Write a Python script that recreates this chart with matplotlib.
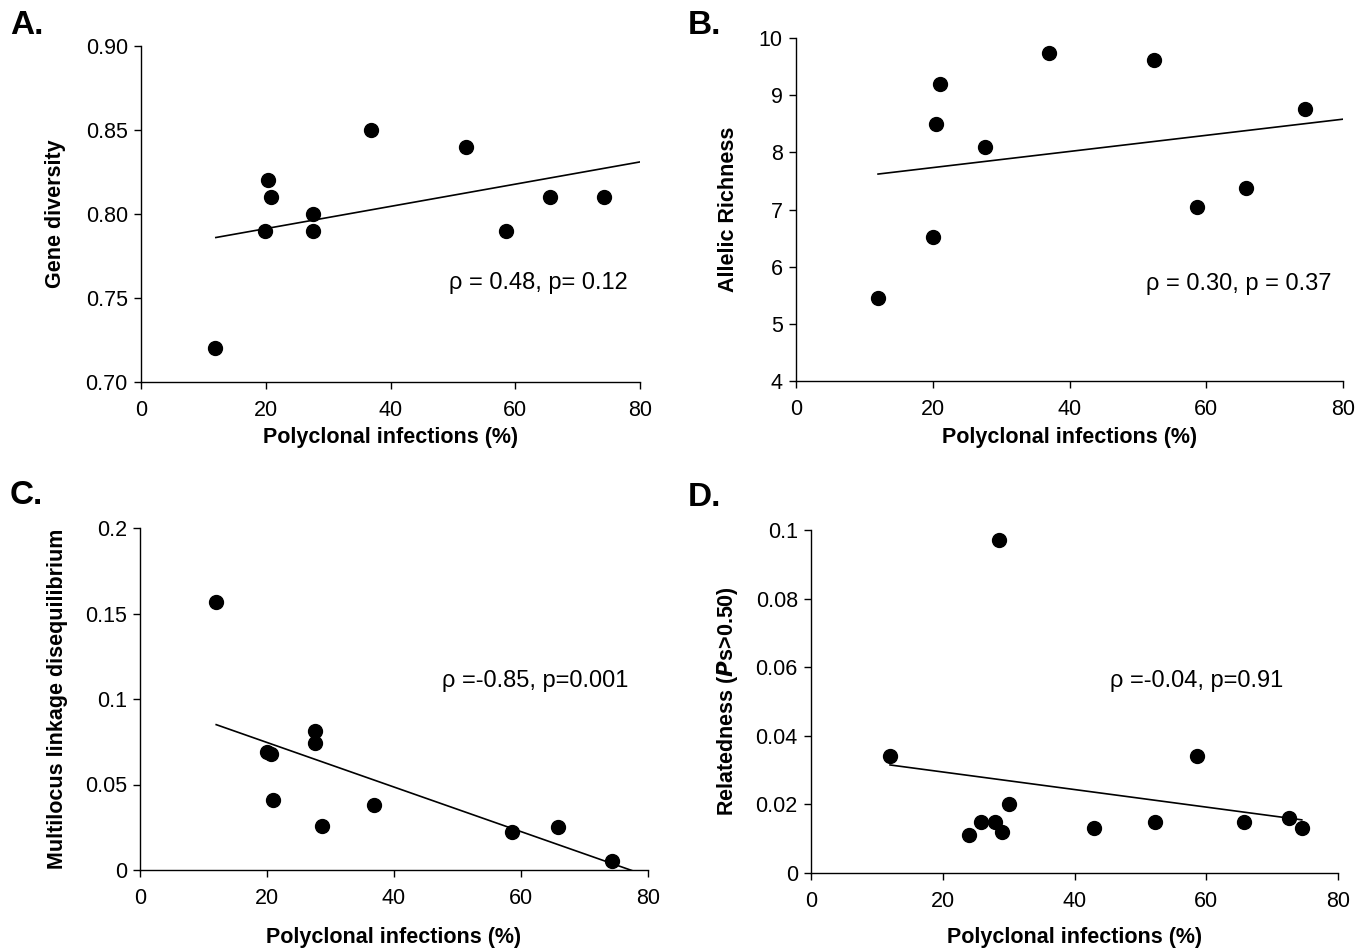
import matplotlib
matplotlib.use("Agg")
import matplotlib.pyplot as plt

# ---------------- data ----------------
xA = [11.9, 19.9, 20.4, 20.8, 27.6, 27.6, 36.9, 52.1, 58.5, 65.6, 74.2]
yA = [0.72, 0.79, 0.82, 0.81, 0.80, 0.79, 0.85, 0.84, 0.79, 0.81, 0.81]
trendA_x = [12, 80]
trendA_y = [0.786, 0.831]

xB = [12.0, 20.0, 20.5, 21.0, 27.7, 37.0, 52.3, 58.7, 65.8, 74.5]
yB = [5.45, 6.52, 8.50, 9.20, 8.10, 9.73, 9.62, 7.05, 7.37, 8.75]
trendB_x = [12, 80]
trendB_y = [7.62, 8.58]

xC = [12.0, 20.0, 20.6, 21.0, 27.6, 27.6, 28.6, 36.8, 58.6, 65.8, 74.3]
yC = [0.157, 0.069, 0.068, 0.041, 0.081, 0.074, 0.026, 0.038, 0.022, 0.025, 0.005]
trendC_x = [12, 78]
trendC_y = [0.085, -0.001]

xD = [12.0, 24.0, 25.8, 28.0, 28.5, 29.0, 30.0, 43.0, 52.2, 58.6, 65.8, 72.5, 74.5]
yD = [0.034, 0.011, 0.015, 0.015, 0.097, 0.012, 0.020, 0.013, 0.015, 0.034, 0.015, 0.016, 0.013]
trendD_x = [12, 74.5]
trendD_y = [0.0315, 0.0155]

xticks = [0, 20, 40, 60, 80]
yticksA = [0.70, 0.75, 0.80, 0.85, 0.90]
yticklabA = ["0.70", "0.75", "0.80", "0.85", "0.90"]
yticksB = [4, 5, 6, 7, 8, 9, 10]
yticksC = [0, 0.05, 0.1, 0.15, 0.2]
yticklabC = ["0", "0.05", "0.1", "0.15", "0.2"]
yticksD = [0, 0.02, 0.04, 0.06, 0.08, 0.1]
yticklabD = ["0", "0.02", "0.04", "0.06", "0.08", "0.1"]

xlabel = "Polyclonal infections (%)"
ylabels = ["Gene diversity", "Allelic Richness", "Multilocus linkage disequilibrium",
           r"Relatedness ($\boldsymbol{P}$s>0.50)"]
annots = ["\u03c1 = 0.48, p= 0.12", "\u03c1 = 0.30, p = 0.37",
          "\u03c1 =-0.85, p=0.001", "\u03c1 =-0.04, p=0.91"]
panel_letters = ["A.", "B.", "C.", "D."]

# ---------------- figure ----------------
plt.rcParams["mathtext.fontset"] = "custom"
plt.rcParams["mathtext.bf"] = "Liberation Sans:bold:italic"

W, H = 1368, 951
fig = plt.figure(figsize=(W / 100, H / 100), dpi=100)

def rect(x0, x1, ytop, ybot):
    return [x0 / W, 1 - ybot / H, (x1 - x0) / W, (ybot - ytop) / H]

tick_font = ["Liberation Sans Narrow", "Liberation Sans", "DejaVu Sans"]
lab_font = ["Liberation Sans", "DejaVu Sans"]

panels = [
    dict(r=rect(141, 640, 46, 382), x=xA, y=yA, tx=trendA_x, ty=trendA_y,
         yl=(0.70, 0.90), yt=yticksA, ytl=yticklabA, ann=(449, 283)),
    dict(r=rect(796, 1343, 38, 381), x=xB, y=yB, tx=trendB_x, ty=trendB_y,
         yl=(4, 10), yt=yticksB, ytl=[str(v) for v in yticksB], ann=(1146, 284)),
    dict(r=rect(140, 648, 528, 870), x=xC, y=yC, tx=trendC_x, ty=trendC_y,
         yl=(0, 0.2), yt=yticksC, ytl=yticklabC, ann=(442, 681)),
    dict(r=rect(811, 1338, 530, 873), x=xD, y=yD, tx=trendD_x, ty=trendD_y,
         yl=(0, 0.1), yt=yticksD, ytl=yticklabD, ann=(1110, 681)),
]
letter_pos = [(10, 25), (688, 25), (10, 495), (688, 497)]
ylab_x = [55, 728, 58, 728]
xlab_y = [438, 438, 937, 938]

for i, p in enumerate(panels):
    ax = fig.add_axes(p["r"])
    ax.scatter(p["x"], p["y"], s=100, color="black", zorder=3, clip_on=False)
    ax.plot(p["tx"], p["ty"], color="black", lw=1.2, zorder=2, clip_on=True)
    ax.set_xlim(0, 80)
    ax.set_ylim(*p["yl"])
    ax.set_xticks(xticks)
    ax.set_xticklabels([str(v) for v in xticks], family=tick_font, fontsize=15.5)
    ax.set_yticks(p["yt"])
    ax.set_yticklabels(p["ytl"], family=tick_font, fontsize=15.5)
    ax.spines["top"].set_visible(False)
    ax.spines["right"].set_visible(False)
    for s in ("left", "bottom"):
        ax.spines[s].set_linewidth(1.0)
    ax.tick_params(direction="out", length=5, width=1.0)
    ax.tick_params(axis="x", pad=8)
    ax.tick_params(axis="y", pad=4.5)
    cx = p["r"][0] + p["r"][2] / 2
    fig.text(cx, 1 - xlab_y[i] / H, xlabel, ha="center", va="center",
             family=lab_font, fontweight="bold", fontsize=15.5)
    cy = p["r"][1] + p["r"][3] / 2
    fig.text(ylab_x[i] / W, cy, ylabels[i], ha="center", va="center",
             rotation=90, family=lab_font, fontweight="bold", fontsize=15.5)
    fig.text(p["ann"][0] / W, 1 - p["ann"][1] / H, annots[i], ha="left",
             va="center", family=tick_font, fontsize=17)
    fig.text(letter_pos[i][0] / W, 1 - letter_pos[i][1] / H, panel_letters[i],
             ha="left", va="center", family=lab_font, fontweight="bold",
             fontsize=24)

fig.savefig("out.png", dpi=100)
